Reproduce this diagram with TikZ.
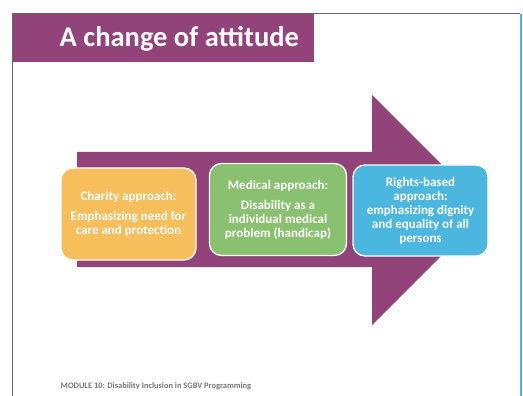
\documentclass[tikz,border=0pt]{standalone}
\usepackage{fontspec}
\setmainfont{Carlito}
\usepackage{xcolor}
\usetikzlibrary{positioning,calc}

\definecolor{plum}{RGB}{146,67,121}
\definecolor{charity}{RGB}{247,190,92}
\definecolor{medical}{RGB}{138,193,112}
\definecolor{rights}{RGB}{76,183,222}
\definecolor{footgray}{RGB}{120,120,120}

\tikzset{
  approach/.style={draw=white,line width=1.3pt,rounded corners=12pt,
    minimum width=135pt,minimum height=92pt,inner sep=2pt,align=center,
    text=white,font=\fontsize{13}{14}\selectfont\bfseries}
}

\begin{document}
\begin{tikzpicture}[x=1pt,y=-1pt]
                \useasboundingbox (0,0) rectangle (523,396);
                % slide frame
                \draw[gray!80!black,line width=0.9pt] (12.5,396) -- (12.5,13.5) -- (520,13.5);
                \draw[rights,line width=2pt] (520.7,14) -- (520.7,396);
                % title band
                \fill[plum] (13,14) rectangle (314,62);
                \node[anchor=base west,text=white,font=\fontsize{28.5}{32}\selectfont\bfseries,inner sep=0pt]
                (title) at (59.5,47) {A change of attitude};
                % big arrow behind the boxes
                \fill[plum] (77,152) -- (372,152) -- (372,95) -- (487,210)
                -- (372,325) -- (372,267) -- (77,267) -- cycle;
                % the three approaches
                \node[approach,fill=charity,minimum width=135pt,minimum height=92pt]
                (charity) at (128.5,214) {Charity approach:\\[6pt]Emphasizing need for\\care and protection};
                \node[approach,fill=medical,minimum width=137pt,minimum height=92pt]
                (medical) at (278,209.5) {Medical approach:\\[6pt]Disability as a\\individual medical\\problem (handicap)};
                \node[approach,fill=rights,minimum width=135pt,minimum height=91pt]
                (rights) at (420.5,210.5) {Rights-based\\approach:\\emphasizing dignity\\and equality of all\\persons};
                % footer
                \node[anchor=west,text=footgray,font=\fontsize{8.4}{9}\selectfont\bfseries,inner sep=0pt]
                (footer) at (60.5,386) {MODULE 10: Disability Inclusion in SGBV Programming};
\end{tikzpicture}
\end{document}
